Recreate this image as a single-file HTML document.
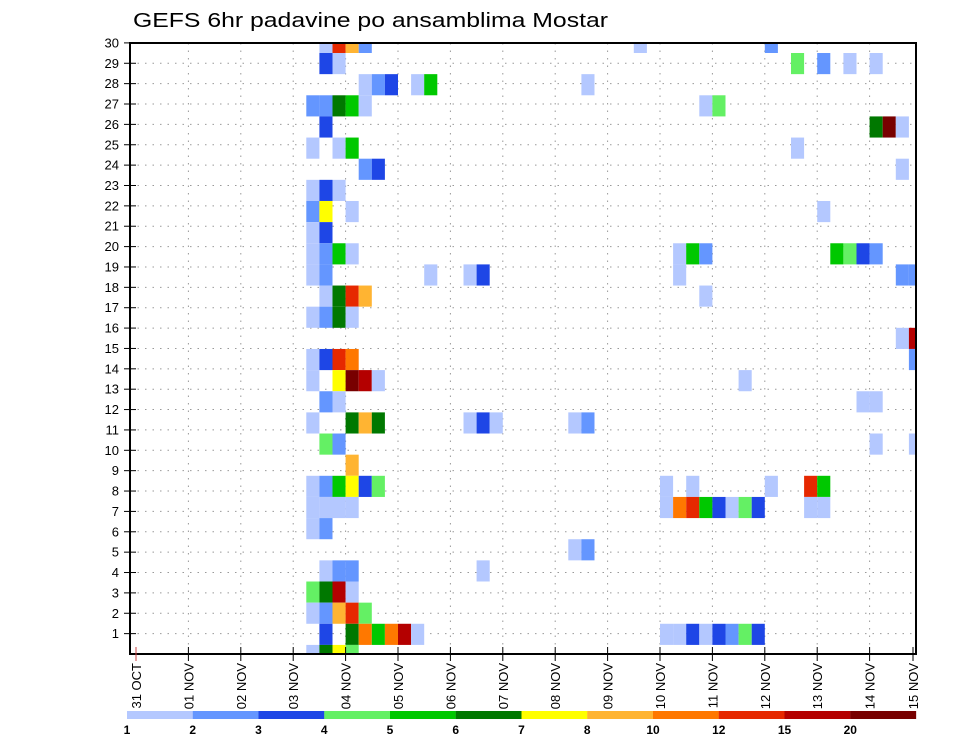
<!DOCTYPE html>
<html><head><meta charset="utf-8">
<style>
html,body{margin:0;padding:0;background:#fff;}
svg{display:block;font-family:"Liberation Sans",sans-serif;}
</style></head>
<body>
<svg id="s" width="960" height="742" viewBox="0 0 960 742" xmlns="http://www.w3.org/2000/svg">
<rect width="960" height="742" fill="#fff"/>
<text x="133" y="27" font-size="20" fill="#000" textLength="475" lengthAdjust="spacingAndGlyphs">GEFS 6hr padavine po ansamblima Mostar</text>
<g id="grid"></g>
<g id="cells"></g>
<rect x="130" y="43" width="786" height="611" fill="none" stroke="#000" stroke-width="2"/>
<g id="axes"></g>
<g id="cbar"></g>
</svg>
<script>
var NS="http://www.w3.org/2000/svg";
function el(p,t,a,txt){var e=document.createElementNS(NS,t);for(var k in a)e.setAttribute(k,a[k]);if(txt!==undefined)e.textContent=txt;p.appendChild(e);return e;}
var col={a:"#b4c8ff",b:"#6496ff",c:"#1e46e6",d:"#64f064",e:"#00c800",f:"#007800",y:"#ffff00",o:"#ffb432",O:"#ff7800",r:"#e62800",R:"#b40000",M:"#780000"};
var data=[
"-2a -1r 0o 1b 22a 32b",
"-2c -1a 34d 36b 38a 40a",
"1a 2b 3c 5a 6e 18a",
"-3b -2b -1f 0e 1a 27a 28d",
"-2c 40f 41M 42a",
"-3a -1a 0e 34a",
"1b 2c 42a",
"-3a -2c -1a",
"-3b -2y 0a 36a",
"-3a -2c",
"-3a -2b -1e 0a 25a 26e 27b 37e 38d 39c 40b",
"-3a -2b 6a 9a 10c 25a 42b 43b",
"-2a -1f 0r 1o 27a",
"-3a -2b -1f 0a",
"42a 43R",
"-3a -2c -1r 0O 43b",
"-3a -1y 0M 1R 2a 30a",
"-2b -1a 39a 40a",
"-3a 0f 1o 2f 9a 10c 11a 17a 18b",
"-2d -1b 40a 43a",
"0o",
"-3a -2b -1e 0y 1c 2d 24a 26a 32a 35r 36e",
"-3a -2a -1a 0a 24a 25O 26r 27e 28c 29a 30d 31c 35a 36a",
"-3a -2b",
"17a 18b",
"-2a -1b 0b 10a",
"-3d -2f -1R 0a",
"-3a -2b -1o 0r 1d",
"-2c 0f 1O 2e 3O 4R 5a 24a 25a 26c 27a 28c 29b 30d 31c",
"-3a -2f -1y 0d"];
var cg=document.getElementById("cells");
for(var n=0;n<data.length;n++){
 var yt=n==0?43:53+21.14*(n-1), yb=n==29?654:53+21.14*n;
 data[n].split(" ").forEach(function(t){
  var m=t.match(/^(-?\d+)(\w)$/);var c=+m[1];
  var x=345.6+13.1*c, w=13.1; if(x+w>916)w=916-x;
  el(cg,"rect",{x:x.toFixed(2),y:yt.toFixed(2),width:w.toFixed(2),height:(yb-yt).toFixed(2),fill:col[m[2]]});
 });
}
var g=document.getElementById("grid"), ax=document.getElementById("axes");
for(var k=1;k<=30;k++){
 var y=654-20.37*k;
 el(g,"line",{x1:130,x2:916,y1:y,y2:y,stroke:"#999","stroke-width":1,"stroke-dasharray":"1.5,6"});
 el(ax,"line",{x1:124,x2:136,y1:y,y2:y,stroke:"#000","stroke-width":1});
 el(ax,"text",{x:119,y:y+4.5,"font-size":13,"text-anchor":"end",fill:"#000"},String(k));
}
var days=["31 OCT","01 NOV","02 NOV","03 NOV","04 NOV","05 NOV","06 NOV","07 NOV","08 NOV","09 NOV","10 NOV","11 NOV","12 NOV","13 NOV","14 NOV","15 NOV"];
for(var i=0;i<16;i++){
 var x=i<15?136+52.4*i:913;
 if(i>0&&i<15) el(g,"line",{x1:x,x2:x,y1:43,y2:654,stroke:"#999","stroke-width":1,"stroke-dasharray":"1.5,6"});
 el(ax,"line",{x1:x,x2:x,y1:647,y2:661,stroke:i==0?"#c44":"#000","stroke-width":1});
 el(ax,"text",{x:0,y:0,"font-size":13,"text-anchor":"end",fill:"#000",transform:"translate("+(x+5)+",663) rotate(-90)"},days[i]);
}
var cb=document.getElementById("cbar");
var cc=["a","b","c","d","e","f","y","o","O","r","R","M"], lab=["1","2","3","4","5","6","7","8","10","12","15","20"];
for(var i=0;i<12;i++){
 var x=127+65.75*i;
 el(cb,"rect",{x:x,y:711,width:65.9,height:8,fill:col[cc[i]]});
 el(cb,"text",{x:x,y:734,"font-size":12,"font-weight":"bold","text-anchor":"middle",fill:"#000"},lab[i]);
}
</script>
</body></html>
